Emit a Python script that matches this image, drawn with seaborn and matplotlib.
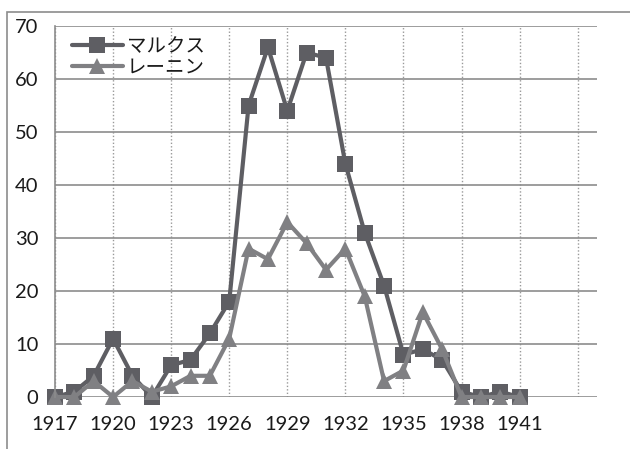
import pandas as pd
import matplotlib.pyplot as plt
import seaborn as sns
from matplotlib.patches import Rectangle

years = list(range(1917, 1942))
marx = [0, 1, 4, 11, 4, 0, 6, 7, 12, 18, 55, 66, 54, 65, 64, 44, 31, 21, 8, 9, 7, 1, 0, 1, 0]
lenin = [0, 0, 3, 0, 3, 1, 2, 4, 4, 11, 28, 26, 33, 29, 24, 28, 19, 3, 5, 16, 9, 0, 0, 0, 0]
series_names = ['マルクス', 'レーニン']
tick_years = list(range(1917, 1945, 3))
tick_labels = [str(y) for y in tick_years[:-1]] + ['']

df = pd.DataFrame({'year': years * 2,
                   'value': marx + lenin,
                   'series': [series_names[0]] * len(years) + [series_names[1]] * len(years)})

sns.set_style('white')
plt.rcParams['font.family'] = ['Lato', 'Noto Sans CJK JP', 'DejaVu Sans']

fig = plt.figure(figsize=(6.3, 4.49), dpi=100)
ax = fig.add_axes([55 / 630, 1 - 397 / 449, (597 - 55) / 630, (397 - 26) / 449])

# outer chart frame (only top/left visible in the reference)
fig.patches.append(Rectangle((7 / 630, -0.5), 1.5, 0.5 + 1 - 12 / 449, transform=fig.transFigure,
                             fill=False, edgecolor='#8c8c8c', linewidth=1.2))

palette = {series_names[0]: '#5e5e63', series_names[1]: '#808083'}
markers = {series_names[0]: 's', series_names[1]: '^'}
sns.lineplot(data=df, x='year', y='value', hue='series', style='series', palette=palette,
             markers=markers, dashes=False, linewidth=3, markersize=12,
             markeredgewidth=0, ax=ax, clip_on=False)

ax.set_xlim(1917, 1945)
ax.set_ylim(0, 70)
ax.set_xticks(tick_years)
ax.set_xticklabels(tick_labels)
ax.set_yticks(range(0, 71, 10))
ax.set_xlabel('')
ax.set_ylabel('')
ax.tick_params(axis='both', labelsize=14.5, labelcolor='#1a1a1a')
ax.tick_params(axis='x', length=6, color='#888888', width=1.2, pad=8)
ax.tick_params(axis='y', length=7, color='#888888', width=1.2, pad=5)

ax.grid(axis='y', color='#8c8c8c', linewidth=1.2, linestyle='-')
ax.grid(axis='x', color='#999999', linewidth=1, linestyle=(0, (1, 1.5)))
ax.set_axisbelow(True)
for side in ['top', 'right', 'bottom']:
    ax.spines[side].set_visible(False)
ax.spines['left'].set_color('#8c8c8c')
ax.spines['left'].set_linewidth(1.2)

leg = ax.legend(loc='upper left', frameon=False, fontsize=14, handlelength=2.6,
                handletextpad=0.2, labelspacing=0.2, borderaxespad=0.2,
                bbox_to_anchor=(0.01, 1.0))
for t in leg.get_texts():
    t.set_color('#1a1a1a')

plt.savefig('out.png', dpi=100)
